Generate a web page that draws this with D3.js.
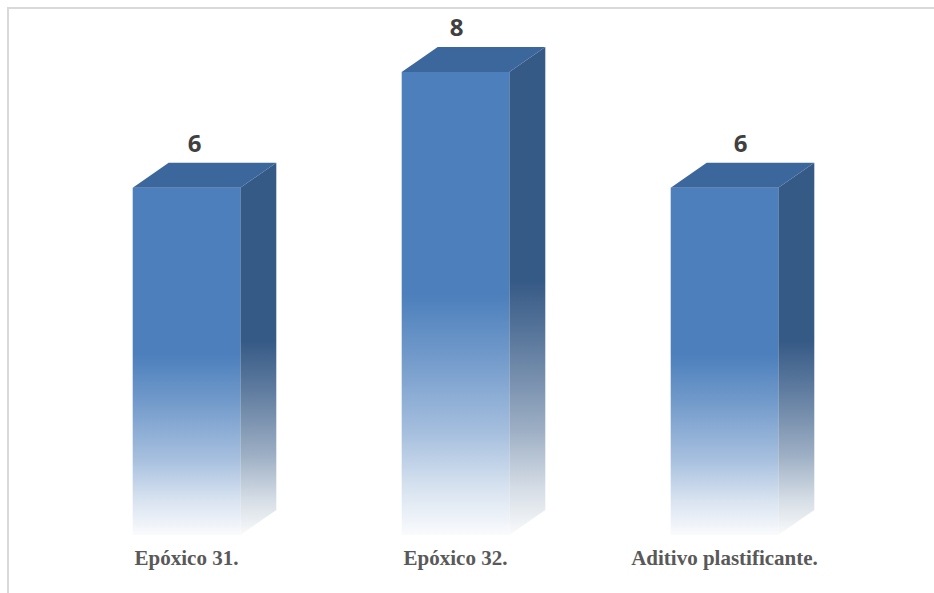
<!DOCTYPE html>
<html>
<head>
<meta charset="utf-8">
<script src="https://cdn.jsdelivr.net/npm/d3@7/dist/d3.min.js"></script>
<style>
  html, body { margin: 0; padding: 0; background: #fff; }
  svg { display: block; }
</style>
</head>
<body>
<svg id="chart" width="934" height="593"></svg>
<script>
// Data
const categories = ["Epóxico 31.", "Epóxico 32.", "Aditivo plastificante."];
const values = [6, 8, 6];

const W = 934, H = 593;
const svg = d3.select("#chart");

// Chart frame
svg.append("path")
  .attr("d", `M8,${H} L8,8 L${W},8`)
  .attr("fill", "none")
  .attr("stroke", "#d9d9d9")
  .attr("stroke-width", 2);

// Scales
const x = d3.scaleBand().domain(categories).range([52, 859]).padding(0);
const y = d3.scaleLinear().domain([0, 8]).range([535, 72]);

const barW = x.bandwidth() * 0.4;
const depthX = 36, depthY = 25;

// Gradients: solid colour on the upper half fading to white at the base
const defs = svg.append("defs");
function fade(id, color) {
  const mix = d3.interpolateRgb(color, "#ffffff");
  const g = defs.append("linearGradient")
    .attr("id", id).attr("x1", 0).attr("y1", 0).attr("x2", 0).attr("y2", 1);
  [[0, 0], [0.48, 0], [0.62, 0.22], [0.78, 0.5], [0.9, 0.78], [1, 0.97]].forEach(([o, t]) =>
    g.append("stop").attr("offset", o).attr("stop-color", mix(t)));
}
fade("frontFade", "#4c7fbc");
fade("sideFade", "#365a86");

const bars = svg.append("g").selectAll("g.bar")
  .data(categories.map((c, i) => ({ c, v: values[i] })))
  .join("g").attr("class", "bar");

// Side face
bars.append("path")
  .attr("fill", "url(#sideFade)")
  .attr("d", d => {
    const x1 = x(d.c) + x.bandwidth() / 2 + barW / 2;
    const yt = y(d.v), yb = y(0);
    return `M${x1},${yt} L${x1 + depthX},${yt - depthY} L${x1 + depthX},${yb - depthY} L${x1},${yb} Z`;
  });

// Front face
bars.append("rect")
  .attr("x", d => x(d.c) + x.bandwidth() / 2 - barW / 2)
  .attr("y", d => y(d.v))
  .attr("width", barW)
  .attr("height", d => y(0) - y(d.v))
  .attr("fill", "url(#frontFade)");

// Top face
bars.append("path")
  .attr("fill", "#3c679c")
  .attr("d", d => {
    const x0 = x(d.c) + x.bandwidth() / 2 - barW / 2;
    const yt = y(d.v);
    return `M${x0},${yt} L${x0 + depthX},${yt - depthY} L${x0 + barW + depthX},${yt - depthY} L${x0 + barW},${yt} Z`;
  });

// Value labels
bars.append("text")
  .attr("x", (d, i) => x(d.c) + x.bandwidth() / 2 + [8, 1, 16][i])
  .attr("y", d => y(d.v) - 36)
  .attr("text-anchor", "middle")
  .attr("font-family", "'Open Sans', sans-serif")
  .attr("font-weight", 700)
  .attr("font-size", 24)
  .attr("fill", "#404040")
  .text(d => d.v);

// Category labels
svg.append("g").selectAll("text")
  .data(categories)
  .join("text")
  .attr("x", d => x(d) + x.bandwidth() / 2)
  .attr("y", 565)
  .attr("text-anchor", "middle")
  .attr("font-family", "'Liberation Serif', 'Times New Roman', serif")
  .attr("font-weight", 700)
  .attr("font-size", 21)
  .attr("fill", "#595959")
  .text(d => d);
</script>
</body>
</html>
